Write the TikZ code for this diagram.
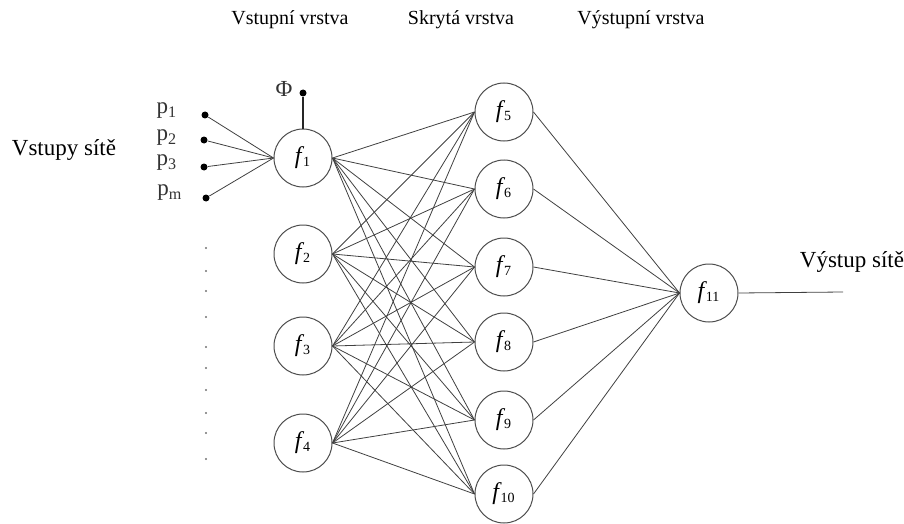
\documentclass[tikz,border=0pt]{standalone}
\usepackage{fontspec}
\setmainfont{Liberation Serif}
\usetikzlibrary{positioning}

\newcommand{\neuronlabel}[1]{{\fontsize{12}{14}\selectfont\textit{f}}\kern-0.5pt\textsubscript{#1}}

\begin{document}
\begin{tikzpicture}[%
            x=0.5pt,
            y=-0.5pt,
            neuron/.style={
                circle,
                draw=black!70,
                line width=0.5pt,
                minimum size=29pt,
                inner sep=0pt,
                font=\fontsize{10}{12}\selectfont,
            },
            inputdot/.style={
                circle,
                fill=black,
                inner sep=0pt,
                minimum size=3.5pt,
            },
            link/.style={
                draw=black!75,
                line width=0.4pt,
            },
            heading/.style={
                font=\fontsize{10}{12}\selectfont,
            },
            sidetext/.style={
                font=\fontsize{11.5}{13}\selectfont,
            },
            plabel/.style={
                font=\fontsize{11.5}{13}\selectfont,
                text=black!80,
            },
        ]
        \useasboundingbox (0,0) rectangle (904,524);

        % headings
        \node[heading] (hin)  at (290,20) {Vstupní vrstva};
        \node[heading] (hhid) at (461,20) {Skrytá vrstva};
        \node[heading] (hout) at (641,20) {Výstupní vrstva};
        \node[sidetext] (netin) at (64,150) {Vstupy sítě};
        \node[sidetext] (netout) at (852,262) {Výstup sítě};

        % input layer
        \node[neuron] (f1) at (303,158) {\neuronlabel{1}};
        \node[neuron] (f2) at (303,254) {\neuronlabel{2}};
        \node[neuron] (f3) at (303,346) {\neuronlabel{3}};
        \node[neuron] (f4) at (303,443) {\neuronlabel{4}};

        % hidden layer
        \node[neuron] (f5)  at (504,112) {\neuronlabel{5}};
        \node[neuron] (f6)  at (504,189) {\neuronlabel{6}};
        \node[neuron] (f7)  at (504,267) {\neuronlabel{7}};
        \node[neuron] (f8)  at (504,342) {\neuronlabel{8}};
        \node[neuron] (f9)  at (504,420) {\neuronlabel{9}};
        \node[neuron] (f10) at (504,494) {\neuronlabel{10}};

        % output layer
        \node[neuron] (f11) at (709,293) {\neuronlabel{11}};
        \coordinate (out) at (843,292);

        % network inputs
        \node[inputdot] (p1) at (205,115) {};
        \node[inputdot] (p2) at (204,140) {};
        \node[inputdot] (p3) at (204,167) {};
        \node[inputdot] (pm) at (206,198) {};
        \node[plabel] at (167,111) {p\textsubscript{1}};
        \node[plabel] at (167,138) {p\textsubscript{2}};
        \node[plabel] at (167,163) {p\textsubscript{3}};
        \node[plabel] at (170,193) {p\textsubscript{m}};
        \node[inputdot] (phi) at (303,93) {};
        \node[plabel] (philabel) at (284,89) {Φ};

        % dotted column
        \foreach \y in {248,271,291,317,347,368,390,413,433,459}
            \fill[black!55] (206,\y) circle (0.6pt);

        % connections
        \foreach \p in {p1,p2,p3,pm}
            \draw[link] (\p) -- (f1.west);
        \draw[black!85, line width=1pt] (phi) -- (f1.north);
        \foreach \i in {1,...,4}
            \foreach \j in {5,...,10}
                \draw[link] (f\i.east) -- (f\j.west);
        \foreach \j in {5,...,10}
            \draw[link] (f\j.east) -- (f11.west);
        \draw[link] (f11.east) -- (out);
    \end{tikzpicture}
\end{document}
